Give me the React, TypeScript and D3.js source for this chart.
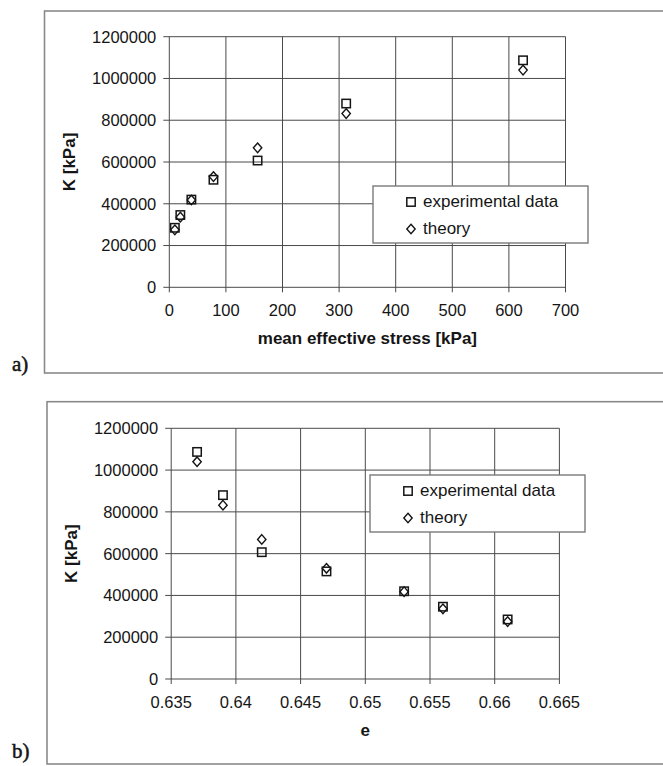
import * as d3 from "d3";

// mean effective stress [kPa] for panel a), void ratio e for panel b)
const stress = [9.8, 19.5, 39, 78, 156, 312.5, 625];
const kExperimental = [285000, 346000, 420000, 515000, 607000, 880000, 1087000];
const kTheory = [275000, 336000, 418000, 530000, 668000, 832000, 1040000];

// panel b) runs the same points from dense to loose
const voidRatio = [0.661, 0.656, 0.653, 0.647, 0.642, 0.639, 0.637];

const stressTicks = [0, 100, 200, 300, 400, 500, 600, 700];
const eTicks = [0.635, 0.64, 0.645, 0.65, 0.655, 0.66, 0.665];
const kTicks = [0, 200000, 400000, 600000, 800000, 1000000, 1200000];

const legendLabels = ["experimental data", "theory"];

const font = "'Liberation Sans', Arial, sans-serif";
const ink = "#151515";
const gridColor = "#4a4a4a";

const Square = ({ x, y }) => (
  <rect x={x - 4.2} y={y - 4.2} width={8.4} height={8.4} fill="none" stroke={ink} strokeWidth={1.5} />
);
const Diamond = ({ x, y }) => (
  <path d={`M${x},${y - 4.8}L${x + 4.2},${y}L${x},${y + 4.8}L${x - 4.2},${y}Z`} fill="none" stroke={ink} strokeWidth={1.4} />
);

const Panel = ({ box, plot, xDomain, xTicks, xFmt, xs, xTitle, tag, tagY, legend }) => {
  const xScale = d3.scaleLinear().domain(xDomain).range([plot.left, plot.right]);
  const yScale = d3.scaleLinear().domain([0, 1200000]).range([plot.bottom, plot.top]);

  return (
    <g>
      <rect x={box.left} y={box.top} width={700} height={box.bottom - box.top} fill="none" stroke="#8a8a8a" strokeWidth={1.6} />
      <text
        x={12}
        y={tagY}
        fontFamily="'Liberation Serif', 'DejaVu Serif', serif"
        fontSize={21}
        fill={ink}
        stroke={ink}
        strokeWidth={0.5}
      >
        {tag}
      </text>

      {/* grid */}
      {kTicks.map((t) => (
        <g key={"y" + t}>
          <line x1={plot.left - 6} x2={plot.right} y1={yScale(t)} y2={yScale(t)} stroke={gridColor} strokeWidth={1} />
          <text x={plot.left - 13} y={yScale(t)} dy="0.36em" textAnchor="end" fontFamily={font} fontSize={16.5} fill={ink}>
            {t}
          </text>
        </g>
      ))}
      {xTicks.map((t) => (
        <g key={"x" + t}>
          <line x1={xScale(t)} x2={xScale(t)} y1={plot.top} y2={plot.bottom + 5} stroke={gridColor} strokeWidth={1} />
          <text x={xScale(t)} y={plot.bottom + 29} textAnchor="middle" fontFamily={font} fontSize={16.5} fill={ink}>
            {xFmt(t)}
          </text>
        </g>
      ))}

      <text
        transform={`translate(${box.left + 30},${(plot.top + plot.bottom) / 2}) rotate(-90)`}
        textAnchor="middle"
        fontFamily={font}
        fontWeight="bold"
        fontSize={17}
        fill={ink}
      >
        K [kPa]
      </text>
      <text x={(plot.left + plot.right) / 2} y={plot.bottom + 57} textAnchor="middle" fontFamily={font} fontWeight="bold" fontSize={17} fill={ink}>
        {xTitle}
      </text>

      {/* points */}
      {xs.map((v, i) => (
        <Square key={"s" + i} x={xScale(v)} y={yScale(kExperimental[i])} />
      ))}
      {xs.map((v, i) => (
        <Diamond key={"d" + i} x={xScale(v)} y={yScale(kTheory[i])} />
      ))}

      {/* legend */}
      <rect x={legend.x} y={legend.y} width={215} height={57} fill="#fff" stroke="#7a7a7a" strokeWidth={1.4} />
      <Square x={legend.x + 38} y={legend.y + 16} />
      <Diamond x={legend.x + 38} y={legend.y + 43} />
      {legendLabels.map((l, i) => (
        <text key={l} x={legend.x + 50} y={legend.y + 21 + i * 27} fontFamily={font} fontSize={17} fill={ink}>
          {l}
        </text>
      ))}
    </g>
  );
};

export default function App() {
  return (
    <svg width={663} height={766} style={{ position: "absolute", left: 0, top: 0, background: "#fff" }}>
      <Panel
        box={{ left: 44.5, top: 11, bottom: 373 }}
        plot={{ left: 169.3, right: 565.5, top: 36.7, bottom: 287.3 }}
        xDomain={[0, 700]}
        xTicks={stressTicks}
        xFmt={(t) => String(t)}
        xs={stress}
        xTitle="mean effective stress [kPa]"
        tag="a)"
        tagY={371}
        legend={{ x: 373, y: 186 }}
      />
      <Panel
        box={{ left: 47, top: 401.7, bottom: 764 }}
        plot={{ left: 171.2, right: 559.4, top: 428.3, bottom: 679 }}
        xDomain={[0.635, 0.665]}
        xTicks={eTicks}
        xFmt={(t) => String(+t.toFixed(3))}
        xs={voidRatio}
        xTitle="e"
        tag="b)"
        tagY={758}
        legend={{ x: 370, y: 475 }}
      />
    </svg>
  );
}
